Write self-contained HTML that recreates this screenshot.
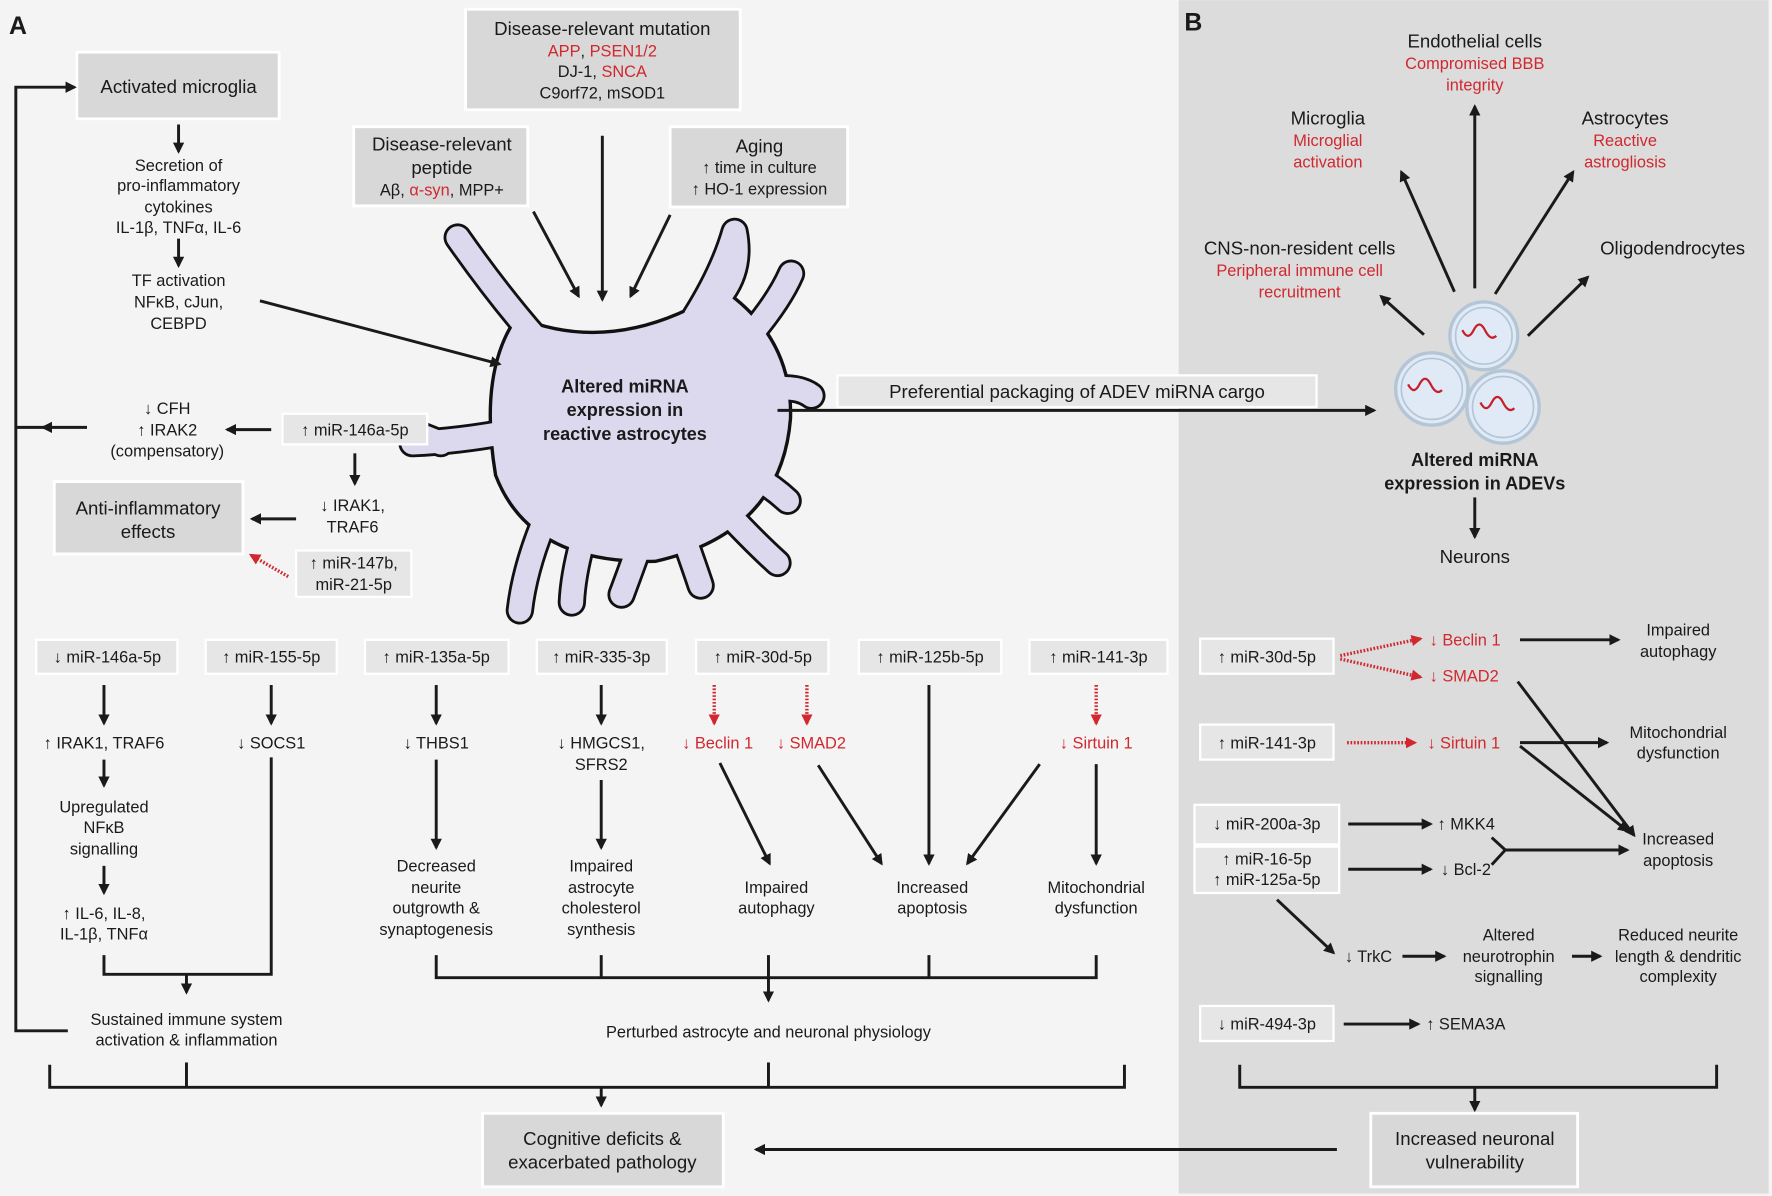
<!DOCTYPE html>
<html><head><meta charset="utf-8"><style>
html,body{margin:0;padding:0;background:#f4f4f4}
svg{display:block}
text{font-family:"Liberation Sans",sans-serif;fill:#1a1a1a}
.t{font-size:14.5px;text-anchor:middle}
.b{font-size:16.5px;text-anchor:middle}
.r{fill:#d0282e}
.bold{font-weight:bold}
.box{fill:#d8d8d8;stroke:#fff;stroke-width:2.5}
.sb{fill:#e6e6e6;stroke:#fff;stroke-width:2}
.ln{stroke:#1a1a1a;stroke-width:2.6;fill:none}
.rd{stroke:#d0282e;stroke-width:3;fill:none;stroke-dasharray:1.5 1.5}
</style></head><body>
<svg width="1772" height="1196" viewBox="0 0 1568 1058" xmlns="http://www.w3.org/2000/svg">
<defs>
<marker id="a" markerWidth="10" markerHeight="10" refX="8" refY="5" orient="auto" markerUnits="userSpaceOnUse"><path d="M0,0 L10,5 L0,10 Z" fill="#1a1a1a"/></marker>
<marker id="ar" markerWidth="10" markerHeight="10" refX="8" refY="5" orient="auto" markerUnits="userSpaceOnUse"><path d="M0,0 L10,5 L0,10 Z" fill="#d0282e"/></marker>
</defs>
<rect x="0" y="0" width="1568" height="1058" fill="#f4f4f4"/>
<rect x="1043" y="0" width="522" height="1056" fill="#dcdcdc"/>

<text x="8" y="30" style="font-size:22px;font-weight:bold">A</text>
<text x="1048" y="27" style="font-size:22px;font-weight:bold">B</text>

<!-- top boxes -->
<rect class="box" x="68" y="46" width="179" height="59"/>
<text class="b" x="158" y="82">Activated microglia</text>
<rect class="box" x="412" y="8" width="243" height="89"/>
<text class="b" x="533" y="31">Disease-relevant mutation</text>
<text class="t r" x="533" y="50">APP<tspan fill="#1a1a1a">, </tspan>PSEN1/2</text>
<text class="t" x="533" y="68">DJ-1, <tspan class="r">SNCA</tspan></text>
<text class="t" x="533" y="87">C9orf72, mSOD1</text>
<rect class="box" x="313" y="112" width="154" height="70"/>
<text class="b" x="391" y="133">Disease-relevant</text>
<text class="b" x="391" y="154">peptide</text>
<text class="t" x="391" y="173">Aβ, <tspan class="r">α-syn</tspan>, MPP+</text>
<rect class="box" x="593" y="112" width="157" height="71"/>
<text class="b" x="672" y="135">Aging</text>
<text class="t" x="672" y="153">↑ time in culture</text>
<text class="t" x="672" y="172">↑ HO-1 expression</text>

<!-- astrocyte -->
<g stroke-linecap="round" stroke-linejoin="round" fill="none">
<g stroke="#111" stroke-width="25">
<path d="M475,300 Q440,260 405,210"/>
<path d="M615,280 Q640,240 650,205 Q656,235 640,258"/>
<path d="M665,295 Q690,265 700,242"/>
<path d="M675,345 Q705,340 718,350"/>
<path d="M460,380 Q410,390 365,392 M390,392 L360,380"/>
<path d="M480,465 Q464,505 460,540"/>
<path d="M515,480 Q507,510 506,533"/>
<path d="M565,485 Q556,510 550,526"/>
<path d="M605,475 Q614,500 620,518"/>
<path d="M640,450 Q668,480 688,498"/>
<path d="M665,420 Q683,430 697,443"/>
</g>
<path d="M458,282 Q545,318 640,258 Q700,300 698,370 Q690,470 580,495 Q470,498 440,420 Q425,330 458,282 Z" fill="#111" stroke="#111" stroke-width="6"/>
<g stroke="#dcd9ee" stroke-width="20">
<path d="M475,300 Q440,260 405,210"/>
<path d="M615,280 Q640,240 650,205 Q656,235 640,258"/>
<path d="M665,295 Q690,265 700,242"/>
<path d="M675,345 Q705,340 718,350"/>
<path d="M460,380 Q410,390 365,392 M390,392 L360,380"/>
<path d="M480,465 Q464,505 460,540"/>
<path d="M515,480 Q507,510 506,533"/>
<path d="M565,485 Q556,510 550,526"/>
<path d="M605,475 Q614,500 620,518"/>
<path d="M640,450 Q668,480 688,498"/>
<path d="M665,420 Q683,430 697,443"/>
</g>
<path d="M458,282 Q545,318 640,258 Q700,300 698,370 Q690,470 580,495 Q470,498 440,420 Q425,330 458,282 Z" fill="#dcd9ee"/>
</g>
<text class="t bold" x="553" y="347" style="font-size:16px">Altered miRNA</text>
<text class="t bold" x="553" y="368" style="font-size:16px">expression in</text>
<text class="t bold" x="553" y="389" style="font-size:16px">reactive astrocytes</text>

<line class="ln" x1="472" y1="187" x2="512" y2="262" marker-end="url(#a)"/>
<line class="ln" x1="533" y1="120" x2="533" y2="265" marker-end="url(#a)"/>
<line class="ln" x1="593" y1="190" x2="558" y2="262" marker-end="url(#a)"/>

<!-- left column -->
<line class="ln" x1="158" y1="110" x2="158" y2="134" marker-end="url(#a)"/>
<text class="t" x="158" y="151">Secretion of</text>
<text class="t" x="158" y="169">pro-inflammatory</text>
<text class="t" x="158" y="188">cytokines</text>
<text class="t" x="158" y="206">IL-1β, TNFα, IL-6</text>
<line class="ln" x1="158" y1="211" x2="158" y2="235" marker-end="url(#a)"/>
<text class="t" x="158" y="253">TF activation</text>
<text class="t" x="158" y="272">NFκB, cJun,</text>
<text class="t" x="158" y="291">CEBPD</text>
<line class="ln" x1="230" y1="266" x2="442" y2="322" marker-end="url(#a)"/>

<polyline class="ln" points="60,912 14,912 14,77 66,77" marker-end="url(#a)"/>
<line class="ln" x1="40" y1="378" x2="14" y2="378"/>
<line class="ln" x1="77" y1="378" x2="38" y2="378" marker-end="url(#a)"/>
<text class="t" x="148" y="366">↓ CFH</text>
<text class="t" x="148" y="385">↑ IRAK2</text>
<text class="t" x="148" y="404">(compensatory)</text>
<line class="ln" x1="240" y1="380" x2="201" y2="380" marker-end="url(#a)"/>
<rect class="sb" x="250" y="366" width="128" height="27"/>
<text class="t" x="314" y="385">↑ miR-146a-5p</text>
<line class="ln" x1="314" y1="401" x2="314" y2="428" marker-end="url(#a)"/>
<text class="t" x="312" y="452">↓ IRAK1,</text>
<text class="t" x="312" y="471">TRAF6</text>
<rect class="box" x="48" y="426" width="167" height="64"/>
<text class="b" x="131" y="455">Anti-inflammatory</text>
<text class="b" x="131" y="476">effects</text>
<line class="ln" x1="262" y1="459" x2="223" y2="459" marker-end="url(#a)"/>
<rect class="sb" x="262" y="487" width="102" height="41"/>
<text class="t" x="313" y="503">↑ miR-147b,</text>
<text class="t" x="313" y="522">miR-21-5p</text>
<line class="rd" x1="255" y1="510" x2="222" y2="491" marker-end="url(#ar)"/>

<!-- packaging -->
<rect class="sb" x="741" y="332" width="424" height="28"/>
<text class="b" x="953" y="352">Preferential packaging of ADEV miRNA cargo</text>
<line class="ln" x1="688" y1="363" x2="1216" y2="363" marker-end="url(#a)"/>

<!-- panel B top -->
<g fill="#dfeaf6" stroke="#b4c6d6" stroke-width="3">
<circle cx="1313" cy="297" r="30"/><circle cx="1313" cy="297" r="25" stroke-width="1.5"/>
<circle cx="1267" cy="344" r="32"/><circle cx="1267" cy="344" r="27" stroke-width="1.5"/>
<circle cx="1330" cy="360" r="32"/><circle cx="1330" cy="360" r="27" stroke-width="1.5"/>
</g>
<g stroke="#c8202a" stroke-width="2" fill="none">
<path d="M1294,292 q5,10 10,0 t10,0 t10,5"/>
<path d="M1246,340 q5,10 10,0 t10,0 t10,5"/>
<path d="M1310,356 q5,10 10,0 t10,0 t10,5"/>
</g>
<text class="b" x="1305" y="42">Endothelial cells</text>
<text class="t r" x="1305" y="61">Compromised BBB</text>
<text class="t r" x="1305" y="80">integrity</text>
<line class="ln" x1="1305" y1="255" x2="1305" y2="94" marker-end="url(#a)"/>
<text class="b" x="1175" y="110">Microglia</text>
<text class="t r" x="1175" y="129">Microglial</text>
<text class="t r" x="1175" y="148">activation</text>
<line class="ln" x1="1287" y1="258" x2="1240" y2="152" marker-end="url(#a)"/>
<text class="b" x="1438" y="110">Astrocytes</text>
<text class="t r" x="1438" y="129">Reactive</text>
<text class="t r" x="1438" y="148">astrogliosis</text>
<line class="ln" x1="1323" y1="260" x2="1392" y2="152" marker-end="url(#a)"/>
<text class="b" x="1150" y="225">CNS-non-resident cells</text>
<text class="t r" x="1150" y="244">Peripheral immune cell</text>
<text class="t r" x="1150" y="263">recruitment</text>
<line class="ln" x1="1260" y1="296" x2="1222" y2="262" marker-end="url(#a)"/>
<text class="b" x="1480" y="225">Oligodendrocytes</text>
<line class="ln" x1="1352" y1="297" x2="1405" y2="245" marker-end="url(#a)"/>
<text class="t bold" x="1305" y="412" style="font-size:16px">Altered miRNA</text>
<text class="t bold" x="1305" y="433" style="font-size:16px">expression in ADEVs</text>
<line class="ln" x1="1305" y1="440" x2="1305" y2="475" marker-end="url(#a)"/>
<text class="b" x="1305" y="498">Neurons</text>

<!-- panel B bottom -->
<rect class="sb" x="1062" y="565" width="118" height="31"/>
<text class="t" x="1121" y="586">↑ miR-30d-5p</text>
<line class="rd" x1="1186" y1="580" x2="1257" y2="565" marker-end="url(#ar)"/>
<line class="rd" x1="1186" y1="583" x2="1257" y2="599" marker-end="url(#ar)"/>
<text class="t r" x="1265" y="571" style="text-anchor:start">↓ Beclin 1</text>
<text class="t r" x="1265" y="603" style="text-anchor:start">↓ SMAD2</text>
<line class="ln" x1="1345" y1="566" x2="1432" y2="566" marker-end="url(#a)"/>
<text class="t" x="1485" y="562">Impaired</text>
<text class="t" x="1485" y="581">autophagy</text>
<line class="ln" x1="1343" y1="603" x2="1446" y2="739" marker-end="url(#a)"/>
<rect class="sb" x="1062" y="641" width="118" height="31"/>
<text class="t" x="1121" y="662">↑ miR-141-3p</text>
<line class="rd" x1="1192" y1="657" x2="1252" y2="657" marker-end="url(#ar)"/>
<text class="t r" x="1263" y="662" style="text-anchor:start">↓ Sirtuin 1</text>
<line class="ln" x1="1345" y1="657" x2="1422" y2="657" marker-end="url(#a)"/>
<line class="ln" x1="1345" y1="660" x2="1440" y2="735" marker-end="url(#a)"/>
<text class="t" x="1485" y="653">Mitochondrial</text>
<text class="t" x="1485" y="671">dysfunction</text>
<rect class="sb" x="1057" y="712" width="128" height="35"/>
<text class="t" x="1121" y="734">↓ miR-200a-3p</text>
<rect class="sb" x="1057" y="749" width="128" height="41"/>
<text class="t" x="1121" y="765">↑ miR-16-5p</text>
<text class="t" x="1121" y="783">↑ miR-125a-5p</text>
<line class="ln" x1="1193" y1="729" x2="1266" y2="729" marker-end="url(#a)"/>
<text class="t" x="1272" y="734" style="text-anchor:start">↑ MKK4</text>
<line class="ln" x1="1193" y1="769" x2="1266" y2="769" marker-end="url(#a)"/>
<text class="t" x="1275" y="774" style="text-anchor:start">↓ Bcl-2</text>
<polyline class="ln" points="1320,741 1332,752 1320,765"/>
<line class="ln" x1="1332" y1="752" x2="1440" y2="752" marker-end="url(#a)"/>
<text class="t" x="1485" y="747">Increased</text>
<text class="t" x="1485" y="766">apoptosis</text>
<line class="ln" x1="1130" y1="796" x2="1180" y2="843" marker-end="url(#a)"/>
<text class="t" x="1190" y="851" style="text-anchor:start">↓ TrkC</text>
<line class="ln" x1="1241" y1="846" x2="1278" y2="846" marker-end="url(#a)"/>
<text class="t" x="1335" y="832">Altered</text>
<text class="t" x="1335" y="851">neurotrophin</text>
<text class="t" x="1335" y="869">signalling</text>
<line class="ln" x1="1391" y1="846" x2="1416" y2="846" marker-end="url(#a)"/>
<text class="t" x="1485" y="832">Reduced neurite</text>
<text class="t" x="1485" y="851">length &amp; dendritic</text>
<text class="t" x="1485" y="869">complexity</text>
<rect class="sb" x="1062" y="890" width="118" height="31"/>
<text class="t" x="1121" y="911">↓ miR-494-3p</text>
<line class="ln" x1="1189" y1="906" x2="1255" y2="906" marker-end="url(#a)"/>
<text class="t" x="1262" y="911" style="text-anchor:start">↑ SEMA3A</text>
<polyline class="ln" points="1097,942 1097,962 1519,962 1519,942"/>
<line class="ln" x1="1305" y1="962" x2="1305" y2="982" marker-end="url(#a)"/>
<rect class="box" x="1213" y="985" width="183" height="65"/>
<text class="b" x="1305" y="1013">Increased neuronal</text>
<text class="b" x="1305" y="1034">vulnerability</text>
<line class="ln" x1="1183" y1="1017" x2="669" y2="1017" marker-end="url(#a)"/>
<rect class="box" x="427" y="985" width="213" height="65"/>
<text class="b" x="533" y="1013">Cognitive deficits &amp;</text>
<text class="b" x="533" y="1034">exacerbated pathology</text>

<!-- panel A bottom -->
<rect class="sb" x="32" y="566" width="125" height="30"/><text class="t" x="95" y="586">↓ miR-146a-5p</text>
<rect class="sb" x="182" y="566" width="116" height="30"/><text class="t" x="240" y="586">↑ miR-155-5p</text>
<rect class="sb" x="323" y="566" width="127" height="30"/><text class="t" x="386" y="586">↑ miR-135a-5p</text>
<rect class="sb" x="475" y="566" width="115" height="30"/><text class="t" x="532" y="586">↑ miR-335-3p</text>
<rect class="sb" x="616" y="566" width="117" height="30"/><text class="t" x="675" y="586">↑ miR-30d-5p</text>
<rect class="sb" x="760" y="566" width="126" height="30"/><text class="t" x="823" y="586">↑ miR-125b-5p</text>
<rect class="sb" x="911" y="566" width="122" height="30"/><text class="t" x="972" y="586">↑ miR-141-3p</text>

<line class="ln" x1="92" y1="606" x2="92" y2="640" marker-end="url(#a)"/>
<line class="ln" x1="240" y1="606" x2="240" y2="640" marker-end="url(#a)"/>
<line class="ln" x1="386" y1="606" x2="386" y2="640" marker-end="url(#a)"/>
<line class="ln" x1="532" y1="606" x2="532" y2="640" marker-end="url(#a)"/>
<line class="rd" x1="632" y1="606" x2="632" y2="640" marker-end="url(#ar)"/>
<line class="rd" x1="714" y1="606" x2="714" y2="640" marker-end="url(#ar)"/>
<line class="ln" x1="822" y1="606" x2="822" y2="764" marker-end="url(#a)"/>
<line class="rd" x1="970" y1="606" x2="970" y2="640" marker-end="url(#ar)"/>

<text class="t" x="92" y="662">↑ IRAK1, TRAF6</text>
<text class="t" x="240" y="662">↓ SOCS1</text>
<text class="t" x="386" y="662">↓ THBS1</text>
<text class="t" x="532" y="662">↓ HMGCS1,</text>
<text class="t" x="532" y="681">SFRS2</text>
<text class="t r" x="635" y="662">↓ Beclin 1</text>
<text class="t r" x="718" y="662">↓ SMAD2</text>
<text class="t r" x="970" y="662">↓ Sirtuin 1</text>

<line class="ln" x1="92" y1="672" x2="92" y2="695" marker-end="url(#a)"/>
<text class="t" x="92" y="719">Upregulated</text>
<text class="t" x="92" y="737">NFκB</text>
<text class="t" x="92" y="756">signalling</text>
<line class="ln" x1="92" y1="766" x2="92" y2="790" marker-end="url(#a)"/>
<text class="t" x="92" y="813">↑ IL-6, IL-8,</text>
<text class="t" x="92" y="831">IL-1β, TNFα</text>
<polyline class="ln" points="92,845 92,862 240,862 240,670"/>
<line class="ln" x1="165" y1="862" x2="165" y2="878" marker-end="url(#a)"/>
<text class="t" x="165" y="907">Sustained immune system</text>
<text class="t" x="165" y="925">activation &amp; inflammation</text>

<line class="ln" x1="386" y1="672" x2="386" y2="750" marker-end="url(#a)"/>
<text class="t" x="386" y="771">Decreased</text>
<text class="t" x="386" y="790">neurite</text>
<text class="t" x="386" y="808">outgrowth &amp;</text>
<text class="t" x="386" y="827">synaptogenesis</text>
<line class="ln" x1="532" y1="690" x2="532" y2="750" marker-end="url(#a)"/>
<text class="t" x="532" y="771">Impaired</text>
<text class="t" x="532" y="790">astrocyte</text>
<text class="t" x="532" y="808">cholesterol</text>
<text class="t" x="532" y="827">synthesis</text>
<line class="ln" x1="637" y1="675" x2="681" y2="764" marker-end="url(#a)"/>
<text class="t" x="687" y="790">Impaired</text>
<text class="t" x="687" y="808">autophagy</text>
<line class="ln" x1="724" y1="677" x2="780" y2="764" marker-end="url(#a)"/>
<line class="ln" x1="920" y1="676" x2="856" y2="764" marker-end="url(#a)"/>
<text class="t" x="825" y="790">Increased</text>
<text class="t" x="825" y="808">apoptosis</text>
<line class="ln" x1="970" y1="676" x2="970" y2="764" marker-end="url(#a)"/>
<text class="t" x="970" y="790">Mitochondrial</text>
<text class="t" x="970" y="808">dysfunction</text>

<polyline class="ln" points="386,845 386,865 970,865 970,845"/>
<line class="ln" x1="532" y1="845" x2="532" y2="865"/>
<line class="ln" x1="680" y1="845" x2="680" y2="885" marker-end="url(#a)"/>
<line class="ln" x1="822" y1="845" x2="822" y2="865"/>
<text class="t" x="680" y="918">Perturbed astrocyte and neuronal physiology</text>

<polyline class="ln" points="44,942 44,962 995,962 995,942"/>
<line class="ln" x1="165" y1="940" x2="165" y2="962"/>
<line class="ln" x1="680" y1="940" x2="680" y2="962"/>
<line class="ln" x1="532" y1="962" x2="532" y2="978" marker-end="url(#a)"/>
</svg>
</body></html>
